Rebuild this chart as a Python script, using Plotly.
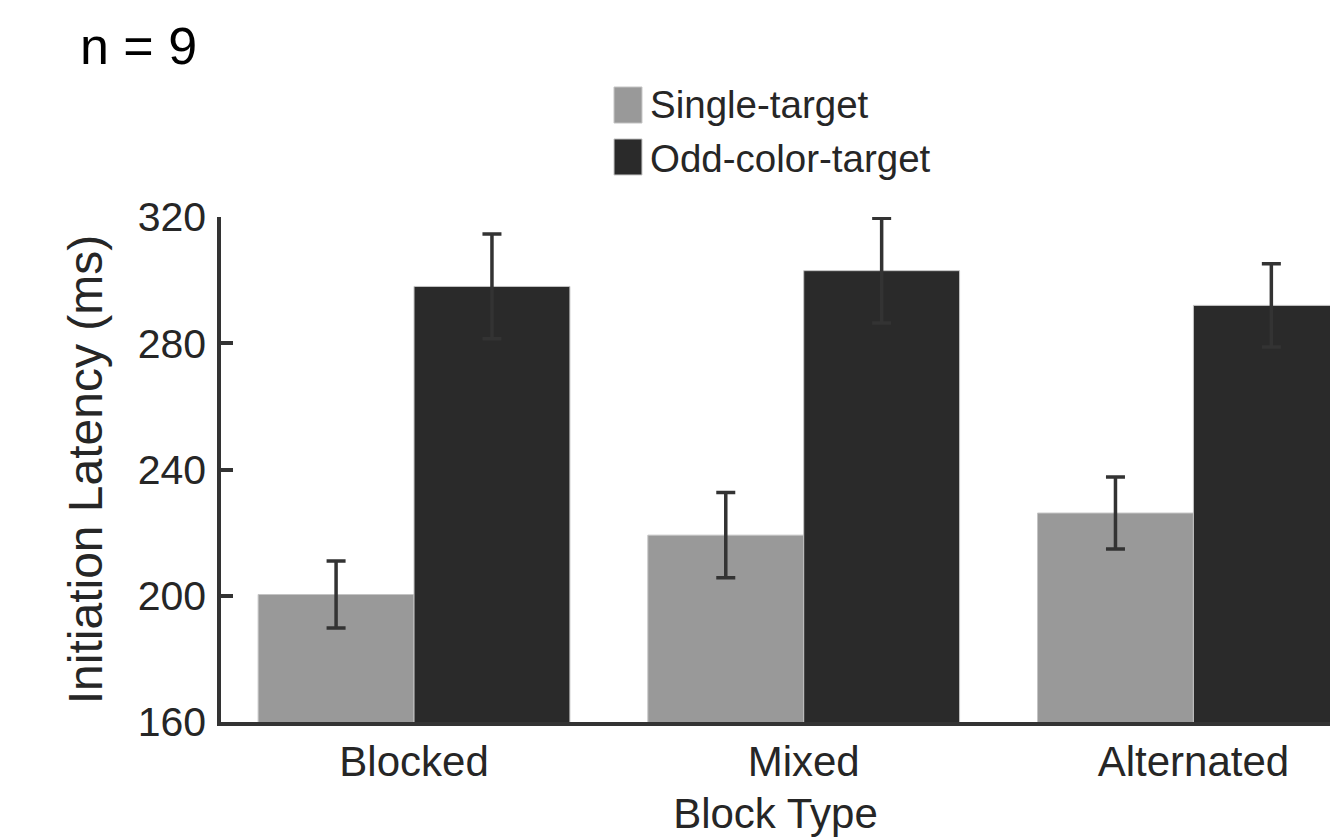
import plotly.graph_objects as go

categories = ["Blocked", "Mixed", "Alternated"]
series_names = ["Single-target", "Odd-color-target"]
single_mean = [200.4, 219.2, 226.2]
single_err = [10.6, 13.5, 11.4]
odd_mean = [298.0, 303.0, 292.0]
odd_err = [16.6, 16.6, 13.2]
y_ticks = [160, 200, 240, 280, 320]

col_single = "#999999"
col_odd = "#2a2a2a"
col_err = "#333333"
col_text = "#262626"
FONT = "Liberation Sans, Arial, Helvetica, sans-serif"

fig = go.Figure()
for name, vals, errs, col in [
    (series_names[0], single_mean, single_err, col_single),
    (series_names[1], odd_mean, odd_err, col_odd),
]:
    fig.add_trace(go.Bar(
        x=categories, y=vals, name=name,
        marker=dict(color=col, line=dict(color="#c4c4c4", width=1)),
        error_y=dict(type="data", array=errs, visible=True,
                     color=col_err, thickness=3.5, width=9.5),
        showlegend=False,
    ))

# manual legend (swatches + labels)
leg_x0, leg_x1 = 0.3544, 0.3796
leg_rows = [(1.2574, 1.1861, 1.2218), (1.1545, 1.0832, 1.1168)]
for (y0, y1, yt), name, col in zip(leg_rows, series_names, [col_single, col_odd]):
    fig.add_shape(type="rect", xref="paper", yref="paper",
                  x0=leg_x0, x1=leg_x1, y0=y1, y1=y0,
                  fillcolor=col, line=dict(color="#c4c4c4", width=1))
    fig.add_annotation(xref="paper", yref="paper", x=0.3850, y=yt,
                       xanchor="left", yanchor="middle", text=name,
                       showarrow=False, font=dict(size=38.5, color=col_text, family=FONT))

fig.add_annotation(xref="paper", yref="paper", x=-0.1290, y=1.3387,
                   xanchor="left", yanchor="middle", text="n = 9",
                   showarrow=False, font=dict(size=52, color="#000000", family=FONT))

fig.update_layout(
    width=1330, height=837,
    margin=dict(l=221, r=0, t=217, b=115, pad=0),
    paper_bgcolor="white", plot_bgcolor="white",
    barmode="group", bargap=0.2, bargroupgap=0,
    font=dict(family=FONT, color=col_text),
    xaxis=dict(
        range=[-0.4953, 2.3505], automargin=False,
        showline=True, linecolor="#333333", linewidth=3.5,
        ticks="", showgrid=False, zeroline=False,
        tickfont=dict(size=42, color=col_text, family=FONT),
        ticklabelstandoff=0,
        title=dict(text="Block Type", font=dict(size=42, color=col_text, family=FONT), standoff=28),
    ),
    yaxis=dict(
        range=[160, 320], tickvals=y_ticks, automargin=False,
        showline=True, linecolor="#333333", linewidth=3.5,
        ticks="inside", ticklen=12, tickwidth=3.5, tickcolor="#333333",
        showgrid=False, zeroline=False,
        tickfont=dict(size=41, color=col_text, family=FONT),
        ticklabelstandoff=3,
        title=dict(text="Initiation Latency (ms)", font=dict(size=48, color=col_text, family=FONT), standoff=21),
    ),
)

fig.write_html("out.html", config={"displayModeBar": False},
               post_script="document.body.style.margin='0';")
